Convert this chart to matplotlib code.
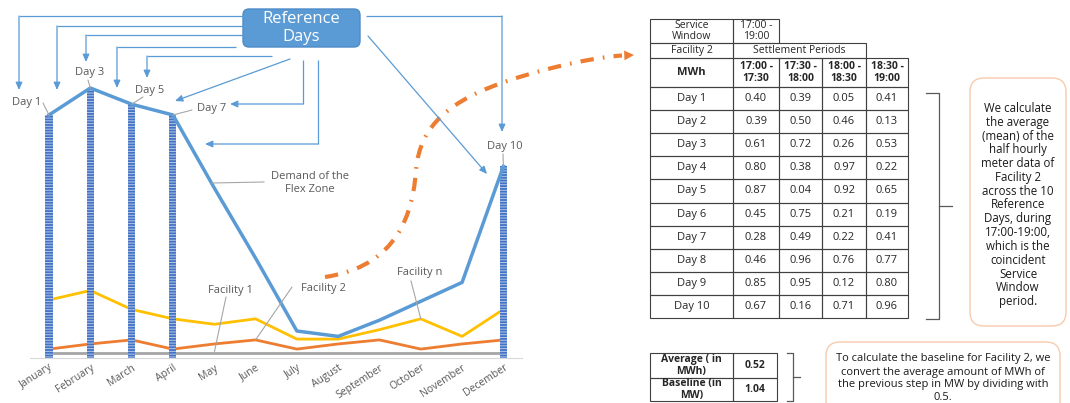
import numpy as np
import matplotlib.pyplot as plt
from matplotlib.patches import Rectangle, FancyBboxPatch, PathPatch
from matplotlib.path import Path

plt.rcParams['font.family'] = ['Open Sans', 'DejaVu Sans']
plt.rcParams['hatch.linewidth'] = 0.7

W, H = 1070, 403

months = ['January', 'February', 'March', 'April', 'May', 'June', 'July',
          'August', 'September', 'October', 'November', 'December']
demand = [90, 100, 94, 90, 63, 37, 10, 8, 14, 21, 28, 71]
facility_n = [21.5, 25, 18, 14.5, 12.5, 14.5, 7, 7, 10.5, 14.5, 8, 18]
facility_2 = [3.3, 5.2, 6.7, 3.3, 5.2, 6.7, 3.3, 5.2, 6.7, 3.3, 5.2, 6.7]
facility_1 = [2] * 12
ref_months = [0, 1, 2, 3, 11]
ref_labels = ['Day 1', 'Day 3', 'Day 5', 'Day 7', 'Day 10']

days = ['Day %d' % i for i in range(1, 11)]
periods = ['17:00 -\n17:30', '17:30 -\n18:00', '18:00 -\n18:30', '18:30 -\n19:00']
mwh = [[0.40, 0.39, 0.05, 0.41],
       [0.39, 0.50, 0.46, 0.13],
       [0.61, 0.72, 0.26, 0.53],
       [0.80, 0.38, 0.97, 0.22],
       [0.87, 0.04, 0.92, 0.65],
       [0.45, 0.75, 0.21, 0.19],
       [0.28, 0.49, 0.22, 0.41],
       [0.46, 0.96, 0.76, 0.77],
       [0.85, 0.95, 0.12, 0.80],
       [0.67, 0.16, 0.71, 0.96]]
average = np.mean(mwh)
baseline = average / 0.5

blue = '#5B9BD5'
orange = '#ED7D31'
txt = '#595959'

fig = plt.figure(figsize=(W / 100, H / 100), dpi=100)

# chart
ax = fig.add_axes([30 / W, (H - 358) / H, (522 - 30) / W, (358 - 61) / H])
x = np.arange(12)
ax.bar([x[i] for i in ref_months], [demand[i] for i in ref_months], width=0.17,
       color='#4472C4', edgecolor='#B4C7E7', hatch='------', lw=0, zorder=3)
ax.plot(x, facility_1, color='#A5A5A5', lw=2, zorder=2)
ax.plot(x, facility_2, color=orange, lw=2, zorder=2)
ax.plot(x, facility_n, color='#FFC000', lw=2, zorder=2)
ax.plot(x, demand, color=blue, lw=2.5, zorder=4)
ax.set_xlim(-0.46, 11.45)
ax.set_ylim(0, 110)
ax.set_xticks(x)
ax.set_xticklabels(months, rotation=33, ha='right', rotation_mode='anchor',
                   fontsize=7.5, color=txt)
ax.tick_params(axis='x', length=0, pad=3)
ax.set_yticks([])
for s in ['top', 'right', 'left']:
    ax.spines[s].set_visible(False)
ax.spines['bottom'].set_color('#D9D9D9')
ax.patch.set_alpha(0)

# overlay in pixel coordinates
ov = fig.add_axes([0, 0, 1, 1])
ov.set_xlim(0, W)
ov.set_ylim(H, 0)
ov.axis('off')
ov.set_zorder(3)

lead = dict(arrowstyle='-', color='#A6A6A6', lw=0.8, shrinkA=0, shrinkB=0)

# day labels
day_pos = [(27, 103), (90, 73), (150, 90), (212, 109), (505, 147)]
lead_start = [(43, 103), (88, 80), (143, 97), (192, 110), (503, 154)]
for i, lab, p, q in zip(ref_months, ref_labels, day_pos, lead_start):
    ov.text(p[0], p[1], lab, fontsize=8, color=txt, ha='center', va='center')
    ov.annotate('', xy=(i, demand[i]), xycoords=ax.transData, xytext=q,
                textcoords=ov.transData, arrowprops=lead)

ov.text(310, 183, 'Demand of the\nFlex Zone', fontsize=8, color=txt, ha='center',
        va='center', linespacing=1.3)
ov.plot([212, 264], [183, 182], color='#A6A6A6', lw=0.8)

ov.text(230, 290, 'Facility 1', fontsize=8, color=txt, ha='center', va='center')
ov.annotate('', xy=(4, facility_1[4]), xycoords=ax.transData, xytext=(226, 297),
            textcoords=ov.transData, arrowprops=lead)
ov.text(323, 289, 'Facility 2', fontsize=8, color=txt, ha='center', va='center')
ov.annotate('', xy=(5, facility_2[5]), xycoords=ax.transData, xytext=(292, 287),
            textcoords=ov.transData, arrowprops=lead)
ov.text(420, 273, 'Facility n', fontsize=8, color=txt, ha='center', va='center')
ov.annotate('', xy=(9, facility_n[9]), xycoords=ax.transData, xytext=(411, 281),
            textcoords=ov.transData, arrowprops=lead)

# reference days box
ov.add_patch(FancyBboxPatch((243, 9), 117, 38, boxstyle='round,pad=0,rounding_size=6',
                            fc=blue, ec='#4F8CC9', lw=1))
ov.text(301.5, 28, 'Reference\nDays', color='white', fontsize=12, ha='center',
        va='center', linespacing=1.2)


def path_arrow(pts):
    xs, ys = zip(*pts)
    ov.plot(xs[:-1], ys[:-1], color=blue, lw=0.9, solid_capstyle='butt')
    ov.annotate('', xy=pts[-1], xytext=pts[-2],
                arrowprops=dict(arrowstyle='-|>,head_length=0.45,head_width=0.2',
                                color=blue, lw=0.9, shrinkA=0, shrinkB=0))


for pts in [[(243, 16), (19, 16), (19, 90)],
            [(243, 26), (57, 26), (57, 90)],
            [(243, 35), (86, 35), (86, 62)],
            [(236, 47), (117, 47), (117, 88)],
            [(272, 56), (147, 56), (147, 78)],
            [(290, 59), (175, 101)],
            [(303, 60), (303, 104), (230, 104)],
            [(318, 60), (318, 144), (205, 144)],
            [(366, 16), (502, 16), (502, 132)],
            [(368, 36), (487, 174)]]:
    path_arrow(pts)

# orange dash-dot connector
verts = [(325, 277), (385, 268), (412, 230), (416, 170),
         (420, 125), (450, 100), (510, 80),
         (560, 64), (600, 57), (622, 55.5)]
codes = [Path.MOVETO] + [Path.CURVE4] * 9
ov.add_patch(PathPatch(Path(verts, codes), fill=False, ec=orange, lw=3,
                       linestyle=(0, (3.2, 2.2, 0.4, 2.2))))
ov.annotate('', xy=(634, 55), xytext=(620, 55.6),
            arrowprops=dict(arrowstyle='-|>,head_length=0.7,head_width=0.35',
                            color=orange, lw=0, shrinkA=0, shrinkB=0))

# table
lc = '#404040'


def cell(x0, y0, x1, y1, s, bold=False, fs=7.5, lw=0.8):
    ov.add_patch(Rectangle((x0, y0), x1 - x0, y1 - y0, fill=False, ec=lc, lw=lw))
    ov.text((x0 + x1) / 2, (y0 + y1) / 2, s, ha='center', va='center', fontsize=fs,
            color='#262626', fontweight='bold' if bold else 'normal', linespacing=1.05)


cx = [650, 733, 779, 822, 866, 908]
cell(650, 19, 733, 43, 'Service\nWindow')
cell(733, 19, 779, 43, '17:00 -\n19:00')
cell(650, 43, 733, 58, 'Facility 2')
cell(733, 43, 866, 58, 'Settlement Periods')
cell(650, 58, 733, 87, 'MWh', bold=True, fs=8)
for j, p in enumerate(periods):
    cell(cx[j + 1], 58, cx[j + 2], 87, p, bold=True)
rh = (318 - 87) / 10
for r, d in enumerate(days):
    y0 = 87 + r * rh
    cell(650, y0, 733, y0 + rh, d, fs=8)
    for j in range(4):
        cell(cx[j + 1], y0, cx[j + 2], y0 + rh, '%.2f' % mwh[r][j], fs=8)

cell(650, 353, 733, 378, 'Average ( in\nMWh)', bold=True)
cell(733, 353, 777, 378, '%.2f' % average, bold=True)
cell(650, 378, 733, 401, 'Baseline (in\nMW)', bold=True)
cell(733, 378, 777, 401, '%.2f' % baseline, bold=True)

# brackets
bc = '#595959'
ov.plot([926, 939, 939, 926], [93, 93, 319, 319], color=bc, lw=0.9)
ov.plot([939, 952], [206, 206], color=bc, lw=0.9)
ov.plot([787, 793, 793, 787], [353, 353, 401, 401], color=bc, lw=0.9)
ov.plot([793, 800], [377, 377], color=bc, lw=0.9)

# explanation boxes
ov.add_patch(FancyBboxPatch((970, 78), 96, 248, boxstyle='round,pad=0,rounding_size=14',
                            fc='white', ec='#F8CBAD', lw=1))
ov.text(1018, 205, 'We calculate\nthe average\n(mean) of the\nhalf hourly\nmeter data of\n'
        'Facility 2\nacross the 10\nReference\nDays, during\n17:00-19:00,\nwhich is the\n'
        'coincident\nService\nWindow\nperiod.', ha='center', va='center', fontsize=8.3,
        color='#1a1a1a', linespacing=1.08)
ov.add_patch(FancyBboxPatch((826, 342), 234, 80, boxstyle='round,pad=0,rounding_size=14',
                            fc='white', ec='#F8CBAD', lw=1, clip_on=True))
ov.text(943, 378.5, 'To calculate the baseline for Facility 2, we\nconvert the average amount '
        'of MWh of\nthe previous step in MW by dividing with\n0.5.', ha='center',
        va='center', fontsize=8, color='#1a1a1a', linespacing=1.25)

fig.savefig('out.png', dpi=100)
